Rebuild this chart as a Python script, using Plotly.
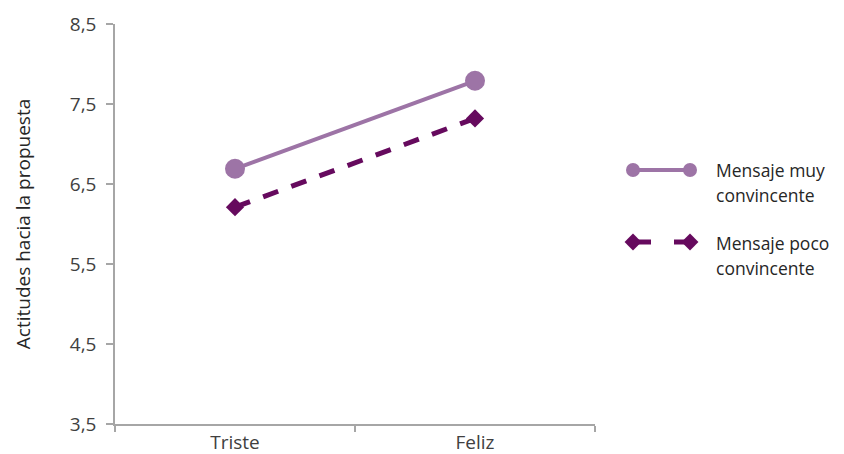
import plotly.graph_objects as go

# Attitude towards the proposal by mood and message strength
categories = ["Triste", "Feliz"]
muy_convincente = [6.69, 7.79]
poco_convincente = [6.21, 7.32]
series_names = ["Mensaje muy<br>convincente", "Mensaje poco<br>convincente"]
y_ticks = [3.5, 4.5, 5.5, 6.5, 7.5, 8.5]

W, H = 844, 454
COL_MUY = "#9d74a6"
COL_POCO = "#660a5e"
AXIS = "#a6a6a6"
TXT = "#404040"
FONT = "Open Sans"

# plot rectangle in pixels
PL, PR, PT, PB = 115, 595, 24, 424

fig = go.Figure()

fig.add_trace(go.Scatter(
    x=categories, y=muy_convincente, mode="lines+markers",
    name=series_names[0], showlegend=False,
    line=dict(color=COL_MUY, width=4),
    marker=dict(symbol="circle", size=20, color=COL_MUY),
))
fig.add_trace(go.Scatter(
    x=categories, y=poco_convincente, mode="lines+markers",
    name=series_names[1], showlegend=False,
    line=dict(color=COL_POCO, width=5, dash="16px,14px"),
    marker=dict(symbol="diamond", size=14, color=COL_POCO),
))

# legend keys drawn on an overlay axis laid out in pixels
LX0, LX1, LY0, LY1 = 600, 844, 140, 300
key_rows = [170, 242]
key_x = [633, 690]
fig.add_trace(go.Scatter(
    x=key_x, y=[key_rows[0]] * 2, xaxis="x2", yaxis="y2", mode="lines+markers",
    showlegend=False, hoverinfo="skip",
    line=dict(color=COL_MUY, width=4),
    marker=dict(symbol="circle", size=14, color=COL_MUY),
))
fig.add_trace(go.Scatter(
    x=key_x, y=[key_rows[1]] * 2, xaxis="x2", yaxis="y2", mode="lines+markers",
    showlegend=False, hoverinfo="skip",
    line=dict(color=COL_POCO, width=5, dash="18px,23px"),
    marker=dict(symbol="diamond", size=13, color=COL_POCO),
))

legend_lines = [
    ("Mensaje muy", 170), ("convincente", 195),
    ("Mensaje poco", 243), ("convincente", 268),
]
for text, ypx in legend_lines:
    fig.add_annotation(
        x=714 / W, y=1 - ypx / H, xref="paper", yref="paper",
        text=text, showarrow=False, xanchor="left", yanchor="middle",
        font=dict(family=FONT, size=17.5, color="#262626"),
    )

fig.update_layout(
    width=W, height=H,
    margin=dict(l=0, r=0, t=0, b=0),
    paper_bgcolor="white", plot_bgcolor="white",
    separators=",.",
    font=dict(family=FONT, size=19, color=TXT),
    showlegend=False,
    xaxis=dict(
        domain=[PL / W, PR / W], range=[-0.5, 1.5],
        type="category", tickson="boundaries", automargin=False,
        showline=True, linecolor=AXIS, linewidth=1.5,
        ticks="outside", ticklen=6, tickcolor=AXIS, tickwidth=1.5,
        showgrid=False, zeroline=False,
        tickfont=dict(family=FONT, size=19, color=TXT),
        anchor="y",
    ),
    yaxis=dict(
        domain=[1 - PB / H, 1 - PT / H], range=[3.5, 8.5], automargin=False,
        tickvals=y_ticks, tickformat=".1f",
        showline=True, linecolor=AXIS, linewidth=1.5,
        ticks="outside", ticklen=7, tickcolor=AXIS, tickwidth=1.5,
        ticklabelstandoff=6,
        showgrid=False, zeroline=False,
        tickfont=dict(family=FONT, size=19, color=TXT),
        title=dict(text="Actitudes hacia la propuesta", standoff=34,
                   font=dict(family=FONT, size=19, color="#262626")),
        anchor="x",
    ),
    xaxis2=dict(domain=[LX0 / W, LX1 / W], range=[LX0, LX1], visible=False,
                fixedrange=True, anchor="y2", automargin=False),
    yaxis2=dict(domain=[1 - LY1 / H, 1 - LY0 / H], range=[LY1, LY0], visible=False,
                fixedrange=True, anchor="x2", automargin=False),
)

fig.write_html("out.html")
